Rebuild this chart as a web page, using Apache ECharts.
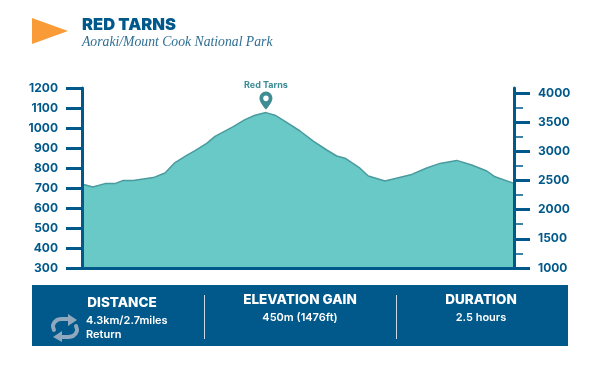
<!DOCTYPE html>
<html><head><meta charset="utf-8">
<style>html,body{margin:0;padding:0;background:#fff}#c{width:600px;height:384px}</style>
<script src="https://cdn.jsdelivr.net/npm/echarts@6/dist/echarts.min.js"></script>
</head><body><div id="c"></div>
<script>
const distanceKm = [0,.107,.229,.328,.411,.511,.71,.826,.926,1.042,1.125,1.241,1.324,1.506,1.622,1.722,1.831,1.921,2.037,2.17,2.302,2.436,2.535,2.618,2.767,2.85,3.016,3.282,3.431,3.563,3.73,3.879,4.029,4.111,4.3];
const elevationM = [720,705,722,722,738,738,752,775,827,863,887,923,958,1007,1042,1064,1077,1064,1028,985,934,890,860,849,799,760,735,768,800,823,838,815,785,756,723];
const peak = [1.831,1077];
const feetMajor = [1000,1500,2000,2500,3000,3500,4000];
const feetMinor = [1250,1750,2250,2750,3250,3750];
const title = 'RED TARNS', subtitle = 'Aoraki/Mount Cook National Park', peakName = 'Red Tarns';

const navy = '#00598A', teal = '#68C9C7', tealDark = '#4A9A9E', pin = '#3F8C94', iconC = '#8FA8BD';
const sans = 'Inter, "Open Sans", sans-serif';
const lbl = {color:navy,fontFamily:sans,fontWeight:700,fontSize:12,formatter:v=>String(v)};
const head = (x,y,t)=>({type:'text',x,y,z:10,style:{text:t,fill:'#fff',font:'800 13.5px '+sans,textAlign:'center',textVerticalAlign:'middle'}});
const body = (x,y,t,a)=>({type:'text',x,y,z:10,style:{text:t,fill:'#fff',font:'600 11px '+sans,textAlign:a||'center',textVerticalAlign:'middle'}});
const divider = x=>({type:'rect',z:10,shape:{x,y:295,width:1,height:44},style:{fill:'#C9D9E4'}});
const iconLine = pts=>({type:'polyline',z:10,shape:{points:pts,smooth:0.3},style:{stroke:iconC,fill:null,lineWidth:4,lineCap:'round'}});
const iconHead = pts=>({type:'polygon',z:10,shape:{points:pts},style:{fill:iconC}});

const chart = echarts.init(document.getElementById('c'),null,{renderer:'canvas'});
chart.setOption({
  animation:false,
  grid:{left:82,right:86,top:88,bottom:116},
  xAxis:{type:'value',min:0,max:4.3,z:5,splitLine:{show:false},axisTick:{show:false},axisLabel:{show:false},
    axisLine:{show:true,onZero:false,lineStyle:{color:navy,width:3}}},
  yAxis:[
    {type:'value',min:300,max:1200,interval:100,position:'left',z:5,splitLine:{show:false},
     axisLine:{show:true,onZero:false,lineStyle:{color:navy,width:3}},
     axisTick:{show:true,length:16,lineStyle:{color:navy,width:3}},
     axisLabel:{...lbl,margin:24,showMinLabel:true,showMaxLabel:true}},
    {type:'value',min:1000,max:4085.7,position:'right',z:5,splitLine:{show:false},
     axisLine:{show:true,onZero:false,lineStyle:{color:navy,width:3}},
     axisTick:{show:true,length:16,customValues:feetMajor,lineStyle:{color:navy,width:3}},
     axisLabel:{...lbl,margin:24,customValues:feetMajor}},
    {type:'value',min:1000,max:4085.7,position:'right',z:5,splitLine:{show:false},
     axisLine:{show:false,onZero:false},
     axisTick:{show:true,length:9,customValues:feetMinor,lineStyle:{color:navy,width:1.5}},
     axisLabel:{show:false}}
  ],
  series:[{
    type:'line',yAxisIndex:0,data:distanceKm.map((d,i)=>[d,elevationM[i]]),
    showSymbol:false,smooth:false,z:2,
    lineStyle:{color:tealDark,width:1.5},
    areaStyle:{color:teal,opacity:1,origin:'start'},
    markPoint:{silent:true,animation:false,data:[{
      coord:peak,name:peakName,
      symbol:'path://M12 0C5.4 0 0 5.4 0 12c0 8 12 20 12 20s12-12 12-20C24 5.4 18.6 0 12 0zm0 17a5 5 0 1 1 0-10 5 5 0 0 1 0 10z',
      symbolSize:[13,18],symbolOffset:[0,-12],
      itemStyle:{color:pin},
      label:{show:true,position:'top',distance:2,formatter:'{b}',color:pin,fontFamily:sans,fontWeight:700,fontSize:9}
    }]}
  }],
  graphic:[
    {type:'polygon',shape:{points:[[32,18],[68,31],[32,44]]},style:{fill:'#F99B36'}},
    {type:'text',x:82,y:25,style:{text:title,fill:navy,font:'900 16.5px '+sans,textVerticalAlign:'middle'}},
    {type:'text',x:82,y:42,style:{text:subtitle,fill:'#2F6F93',font:'italic 13.7px "Liberation Serif", serif',textVerticalAlign:'middle'}},
    {type:'rect',z:9,shape:{x:32,y:285,width:536,height:61},style:{fill:navy}},
    divider(204),divider(396),
    head(122,303,'DISTANCE'),body(86,321,'4.3km/2.7miles','left'),body(86,335,'Return','left'),
    head(300,300,'ELEVATION GAIN'),body(300,318,'450m (1476ft)'),
    head(481,300,'DURATION'),body(481,318,'2.5 hours'),
    iconLine([[54,330],[53,325],[57,320],[62,319],[70,319]]),
    iconHead([[68,314],[77,320],[68,326]]),
    iconLine([[76,326],[77,331],[73,336],[68,337],[60,337]]),
    iconHead([[62,331],[53,337],[62,342]])
  ]
});
</script></body></html>
